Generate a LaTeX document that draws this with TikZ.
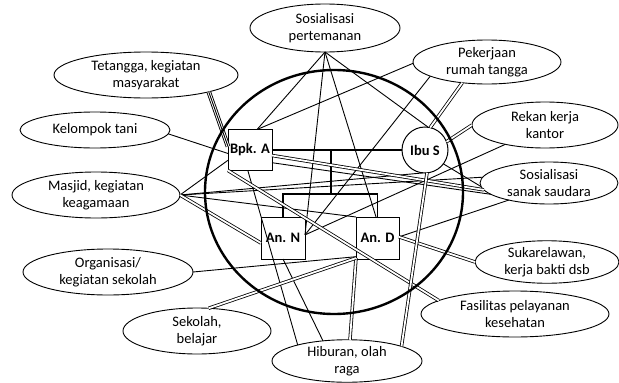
\documentclass[tikz,border=0pt]{standalone}
\usepackage{fontspec}
\setmainfont{Carlito}
\usetikzlibrary{shapes.geometric,calc}
\begin{document}
\begin{tikzpicture}[x=1pt,y=-1pt,
  el/.style={ellipse,draw,line width=0.9pt,fill=white,inner sep=0pt,outer sep=0pt,align=center,font=\fontsize{14.5}{17.5}\selectfont},
  person/.style={rectangle,draw,line width=1pt,inner sep=0pt,outer sep=0pt,minimum width=44pt,minimum height=42pt,font=\bfseries\fontsize{14.5}{17.5}\selectfont},
  tie/.style={line width=0.9pt},
  strong/.style={double,double distance=1.8pt,line width=0.8pt},
  triple/.style={line width=4.6pt,postaction={draw,white,line width=2.8pt},postaction={draw,black,line width=0.9pt}},
  family/.style={line width=1.5pt}
]
\useasboundingbox (0,0) rectangle (619,383);
% activity ellipses
\node[el,minimum width=184,minimum height=46] (tet) at (146,75) {Tetangga, kegiatan\\masyarakat};
\node[el,minimum width=150,minimum height=48] (sosp) at (325,28) {Sosialisasi\\pertemanan};
\node[el,minimum width=148,minimum height=44] (pek) at (487,62) {Pekerjaan\\rumah tangga};
\node[el,minimum width=146,minimum height=46] (rek) at (545,125) {Rekan kerja\\kantor};
\node[el,minimum width=150,minimum height=36] (kel) at (95,130) {Kelompok tani};
\node[el,minimum width=168,minimum height=46] (mas) at (96,195) {Masjid, kegiatan\\keagamaan};
\node[el,minimum width=138,minimum height=42] (san) at (549,183) {Sosialisasi\\sanak saudara};
\node[el,minimum width=144,minimum height=40] (suk) at (547,262) {Sukarelawan,\\kerja bakti dsb};
\node[el,minimum width=188,minimum height=46] (fas) at (515,314) {Fasilitas pelayanan\\kesehatan};
\node[el,minimum width=150,minimum height=42] (hib) at (347,361) {Hiburan, olah\\raga};
\node[el,minimum width=148,minimum height=46] (sek) at (197,331) {Sekolah,\\belajar};
\node[el,minimum width=170,minimum height=46] (org) at (108,272) {Organisasi/\\kegiatan sekolah};
% family members
\node[person,minimum height=41pt] (bpk) at (250,150) {Bpk. A};
\node[circle,draw,line width=1pt,inner sep=0pt,outer sep=0pt,minimum size=46pt,font=\bfseries\fontsize{14.5}{17.5}\selectfont] (ibu) at (425,150) {Ibu S};
\node[person] (ann) at (283,238) {An. N};
\node[person,minimum width=43pt] (ad) at (377.5,238) {An. D};
% family tree
\coordinate (mid) at ($(bpk.east)!0.454!(ibu.west)$);
\coordinate (kids) at ($(mid)+(0,44)$);
\draw[family] (bpk.east) -- (ibu.west);
\draw[family] (mid) -- (kids);
\draw[family] (ann.north) |- (kids) -| (ad.north);
% ties
\draw[tie] (kel.357) -- (bpk.189);
\draw[tie] (mas.east) -- (bpk.205);
\draw[tie] (sosp.south) -- (bpk.71);
\draw[tie] (pek.181) -- (bpk.71);
\draw[tie] (sosp.south) -- (ann.8);
\draw[tie] (sosp.south) -- (ad.94);
\draw[tie] (sosp.south) -- (ibu.82);
\draw[tie] (pek.194) -- (ann.8);
\draw[tie] (rek.206) -- (ann.8);
\draw[tie] (san.203) -- (ad.3);
\draw[tie] (bpk.330) -- (san.191);
\draw[tie] (ibu.323) -- (san.183);
\draw[tie] (mas.east) -- (ibu.265);
\draw[tie] (mas.east) -- (san.175);
\draw[tie] (mas.east) -- (ad.north west);
\draw[tie] (bpk.264) -- (hib.162);
\draw[tie] (ann.south) -- (hib.140);
\draw[tie] (org.east) -- (ad.221);
\draw[strong] (pek.220) -- (ibu.77);
\draw[strong] (rek.west) -- (ibu.21);
\draw[strong] (ad.3) -- (suk.west);
\draw[strong] (bpk.346) -- (san.186);
\draw[strong] (mas.east) -- (ann.193);
\draw[strong] (bpk.223) -- (fas.170);
\draw[strong] (ad.223) -- (hib.82);
\draw[strong] (ibu.275) -- (hib.15);
\draw[strong] (sek.63) -- (ad.223);
\draw[triple] (tet.345) -- (bpk.171);
% household boundary
\draw[line width=2.4pt] (334,192) ellipse [x radius=129, y radius=122];
\end{tikzpicture}
\end{document}
